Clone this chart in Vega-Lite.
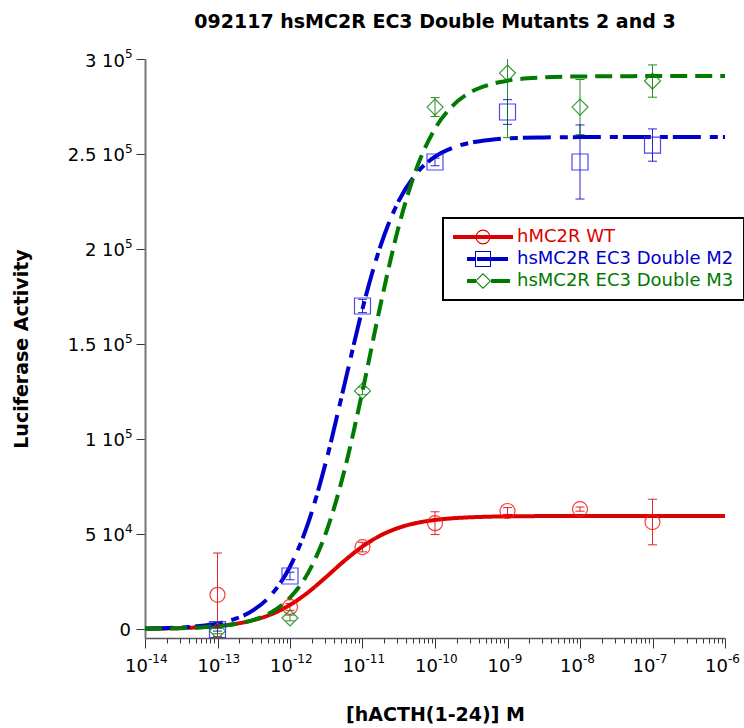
{
  "$schema": "https://vega.github.io/schema/vega-lite/v6.json",
  "width": 580,
  "height": 579,
  "autosize": "none",
  "padding": {"left": 145, "top": 59, "right": 19, "bottom": 90},
  "background": "white",
  "config": {
    "view": {"stroke": null},
    "font": "DejaVu Sans"
  },
  "title": {
    "text": "092117 hsMC2R EC3 Double Mutants 2 and 3",
    "font": "DejaVu Sans",
    "fontSize": 19,
    "fontWeight": "bold",
    "color": "black",
    "anchor": "middle",
    "offset": 16
  },
  "datasets": {
    "curve": [
      {"series": "hMC2R WT", "conc": 1e-14, "y": 160},
      {"series": "hMC2R WT", "conc": 1.778e-14, "y": 285},
      {"series": "hMC2R WT", "conc": 3.162e-14, "y": 505},
      {"series": "hMC2R WT", "conc": 5.623e-14, "y": 890},
      {"series": "hMC2R WT", "conc": 1e-13, "y": 1565},
      {"series": "hMC2R WT", "conc": 1.778e-13, "y": 2730},
      {"series": "hMC2R WT", "conc": 3.162e-13, "y": 4690},
      {"series": "hMC2R WT", "conc": 5.623e-13, "y": 7850},
      {"series": "hMC2R WT", "conc": 1e-12, "y": 12670},
      {"series": "hMC2R WT", "conc": 1.778e-12, "y": 19320},
      {"series": "hMC2R WT", "conc": 3.162e-12, "y": 27420},
      {"series": "hMC2R WT", "conc": 5.623e-12, "y": 35890},
      {"series": "hMC2R WT", "conc": 1e-11, "y": 43430},
      {"series": "hMC2R WT", "conc": 1.778e-11, "y": 49260},
      {"series": "hMC2R WT", "conc": 3.162e-11, "y": 53270},
      {"series": "hMC2R WT", "conc": 5.623e-11, "y": 55830},
      {"series": "hMC2R WT", "conc": 1e-10, "y": 57380},
      {"series": "hMC2R WT", "conc": 1.778e-10, "y": 58290},
      {"series": "hMC2R WT", "conc": 3.162e-10, "y": 58810},
      {"series": "hMC2R WT", "conc": 5.623e-10, "y": 59110},
      {"series": "hMC2R WT", "conc": 1e-9, "y": 59280},
      {"series": "hMC2R WT", "conc": 3.162e-9, "y": 59430},
      {"series": "hMC2R WT", "conc": 1e-8, "y": 59480},
      {"series": "hMC2R WT", "conc": 1e-7, "y": 59500},
      {"series": "hMC2R WT", "conc": 1e-6, "y": 59500},
      {"series": "hsMC2R EC3 Double M2", "conc": 1e-14, "y": 226},
      {"series": "hsMC2R EC3 Double M2", "conc": 1.778e-14, "y": 427},
      {"series": "hsMC2R EC3 Double M2", "conc": 3.162e-14, "y": 809},
      {"series": "hsMC2R EC3 Double M2", "conc": 5.623e-14, "y": 1527},
      {"series": "hsMC2R EC3 Double M2", "conc": 1e-13, "y": 2880},
      {"series": "hsMC2R EC3 Double M2", "conc": 1.778e-13, "y": 5400},
      {"series": "hsMC2R EC3 Double M2", "conc": 3.162e-13, "y": 10050},
      {"series": "hsMC2R EC3 Double M2", "conc": 5.623e-13, "y": 18380},
      {"series": "hsMC2R EC3 Double M2", "conc": 1e-12, "y": 32770},
      {"series": "hsMC2R EC3 Double M2", "conc": 1.778e-12, "y": 55740},
      {"series": "hsMC2R EC3 Double M2", "conc": 3.162e-12, "y": 88590},
      {"series": "hsMC2R EC3 Double M2", "conc": 5.623e-12, "y": 128500},
      {"series": "hsMC2R EC3 Double M2", "conc": 1e-11, "y": 168600},
      {"series": "hsMC2R EC3 Double M2", "conc": 1.778e-11, "y": 201800},
      {"series": "hsMC2R EC3 Double M2", "conc": 3.162e-11, "y": 225300},
      {"series": "hsMC2R EC3 Double M2", "conc": 5.623e-11, "y": 240000},
      {"series": "hsMC2R EC3 Double M2", "conc": 1e-10, "y": 248600},
      {"series": "hsMC2R EC3 Double M2", "conc": 1.778e-10, "y": 253400},
      {"series": "hsMC2R EC3 Double M2", "conc": 3.162e-10, "y": 256000},
      {"series": "hsMC2R EC3 Double M2", "conc": 5.623e-10, "y": 257400},
      {"series": "hsMC2R EC3 Double M2", "conc": 1e-9, "y": 258200},
      {"series": "hsMC2R EC3 Double M2", "conc": 3.162e-9, "y": 258700},
      {"series": "hsMC2R EC3 Double M2", "conc": 1e-8, "y": 258900},
      {"series": "hsMC2R EC3 Double M2", "conc": 1e-7, "y": 259000},
      {"series": "hsMC2R EC3 Double M2", "conc": 1e-6, "y": 259000},
      {"series": "hsMC2R EC3 Double M3", "conc": 1e-14, "y": 110},
      {"series": "hsMC2R EC3 Double M3", "conc": 1.778e-14, "y": 207},
      {"series": "hsMC2R EC3 Double M3", "conc": 3.162e-14, "y": 390},
      {"series": "hsMC2R EC3 Double M3", "conc": 5.623e-14, "y": 734},
      {"series": "hsMC2R EC3 Double M3", "conc": 1e-13, "y": 1380},
      {"series": "hsMC2R EC3 Double M3", "conc": 1.778e-13, "y": 2590},
      {"series": "hsMC2R EC3 Double M3", "conc": 3.162e-13, "y": 4840},
      {"series": "hsMC2R EC3 Double M3", "conc": 5.623e-13, "y": 8980},
      {"series": "hsMC2R EC3 Double M3", "conc": 1e-12, "y": 16470},
      {"series": "hsMC2R EC3 Double M3", "conc": 1.778e-12, "y": 29550},
      {"series": "hsMC2R EC3 Double M3", "conc": 3.162e-12, "y": 51060},
      {"series": "hsMC2R EC3 Double M3", "conc": 5.623e-12, "y": 83280},
      {"series": "hsMC2R EC3 Double M3", "conc": 1e-11, "y": 125200},
      {"series": "hsMC2R EC3 Double M3", "conc": 1.778e-11, "y": 170900},
      {"series": "hsMC2R EC3 Double M3", "conc": 3.162e-11, "y": 211900},
      {"series": "hsMC2R EC3 Double M3", "conc": 5.623e-11, "y": 242900},
      {"series": "hsMC2R EC3 Double M3", "conc": 1e-10, "y": 263300},
      {"series": "hsMC2R EC3 Double M3", "conc": 1.778e-10, "y": 275600},
      {"series": "hsMC2R EC3 Double M3", "conc": 3.162e-10, "y": 282700},
      {"series": "hsMC2R EC3 Double M3", "conc": 5.623e-10, "y": 286500},
      {"series": "hsMC2R EC3 Double M3", "conc": 1e-9, "y": 288600},
      {"series": "hsMC2R EC3 Double M3", "conc": 3.162e-9, "y": 290300},
      {"series": "hsMC2R EC3 Double M3", "conc": 1e-8, "y": 290800},
      {"series": "hsMC2R EC3 Double M3", "conc": 1e-7, "y": 291000},
      {"series": "hsMC2R EC3 Double M3", "conc": 1e-6, "y": 291000}
    ],
    "pts": [
      {"series": "hMC2R WT", "conc": 1e-13, "y": 18000, "lo": -4000, "hi": 40000},
      {"series": "hMC2R WT", "conc": 1e-12, "y": 11600, "lo": 9800, "hi": 13400},
      {"series": "hMC2R WT", "conc": 1e-11, "y": 43100, "lo": 40600, "hi": 45600},
      {"series": "hMC2R WT", "conc": 1e-10, "y": 55700, "lo": 49700, "hi": 61700},
      {"series": "hMC2R WT", "conc": 1e-9, "y": 62100, "lo": 60300, "hi": 63900},
      {"series": "hMC2R WT", "conc": 1e-8, "y": 63100, "lo": 62000, "hi": 64200},
      {"series": "hMC2R WT", "conc": 1e-7, "y": 56300, "lo": 44300, "hi": 68300},
      {"series": "hsMC2R EC3 Double M2", "conc": 1e-13, "y": -300, "lo": -1100, "hi": 500},
      {"series": "hsMC2R EC3 Double M2", "conc": 1e-12, "y": 27900, "lo": 25900, "hi": 29900},
      {"series": "hsMC2R EC3 Double M2", "conc": 1e-11, "y": 170000, "lo": 166500, "hi": 173500},
      {"series": "hsMC2R EC3 Double M2", "conc": 1e-10, "y": 245800, "lo": 243800, "hi": 247800},
      {"series": "hsMC2R EC3 Double M2", "conc": 1e-9, "y": 272100, "lo": 265600, "hi": 278600},
      {"series": "hsMC2R EC3 Double M2", "conc": 1e-8, "y": 245800, "lo": 226300, "hi": 265300},
      {"series": "hsMC2R EC3 Double M2", "conc": 1e-7, "y": 254700, "lo": 246200, "hi": 263200},
      {"series": "hsMC2R EC3 Double M3", "conc": 1e-13, "y": -1000, "lo": -2500, "hi": 500},
      {"series": "hsMC2R EC3 Double M3", "conc": 1e-12, "y": 5800, "lo": 4300, "hi": 7300},
      {"series": "hsMC2R EC3 Double M3", "conc": 1e-11, "y": 125300, "lo": 123300, "hi": 127300},
      {"series": "hsMC2R EC3 Double M3", "conc": 1e-10, "y": 274700, "lo": 269700, "hi": 279700},
      {"series": "hsMC2R EC3 Double M3", "conc": 1e-9, "y": 292600, "lo": 258600, "hi": 326600},
      {"series": "hsMC2R EC3 Double M3", "conc": 1e-8, "y": 274700, "lo": 260200, "hi": 289200},
      {"series": "hsMC2R EC3 Double M3", "conc": 1e-7, "y": 288400, "lo": 279900, "hi": 296900}
    ],
    "xlab": [
      {"conc": 1e-14, "base": "10", "exp": "-14"},
      {"conc": 1e-13, "base": "10", "exp": "-13"},
      {"conc": 1e-12, "base": "10", "exp": "-12"},
      {"conc": 1e-11, "base": "10", "exp": "-11"},
      {"conc": 1e-10, "base": "10", "exp": "-10"},
      {"conc": 1e-9, "base": "10", "exp": "-9"},
      {"conc": 1e-8, "base": "10", "exp": "-8"},
      {"conc": 1e-7, "base": "10", "exp": "-7"},
      {"conc": 1e-6, "base": "10", "exp": "-6"}
    ],
    "ylab": [
      {"v": 0, "base": "0", "exp": ""},
      {"v": 50000, "base": "5 10", "exp": "4"},
      {"v": 100000, "base": "1 10", "exp": "5"},
      {"v": 150000, "base": "1.5 10", "exp": "5"},
      {"v": 200000, "base": "2 10", "exp": "5"},
      {"v": 250000, "base": "2.5 10", "exp": "5"},
      {"v": 300000, "base": "3 10", "exp": "5"}
    ]
  },
  "layer": [
    {
      "data": {"name": "curve"},
      "mark": {"type": "line", "interpolate": "monotone", "strokeWidth": 4, "clip": true},
      "encoding": {
        "x": {
          "field": "conc",
          "type": "quantitative",
          "scale": {"type": "log", "domain": [1e-14, 1e-6], "nice": false},
          "axis": {
            "title": "[hACTH(1-24)] M",
            "titleFont": "DejaVu Sans",
            "titleFontSize": 19,
            "titleFontWeight": "bold",
            "titleColor": "black",
            "titlePadding": 57,
            "grid": false,
            "values": [1e-14,2e-14,3e-14,4e-14,5e-14,6e-14,7e-14,8e-14,9e-14,1e-13,2e-13,3e-13,4e-13,5e-13,6e-13,7e-13,8e-13,9e-13,1e-12,2e-12,3e-12,4e-12,5e-12,6e-12,7e-12,8e-12,9e-12,1e-11,2e-11,3e-11,4e-11,5e-11,6e-11,7e-11,8e-11,9e-11,1e-10,2e-10,3e-10,4e-10,5e-10,6e-10,7e-10,8e-10,9e-10,1e-9,2e-9,3e-9,4e-9,5e-9,6e-9,7e-9,8e-9,9e-9,1e-8,2e-8,3e-8,4e-8,5e-8,6e-8,7e-8,8e-8,9e-8,1e-7,2e-7,3e-7,4e-7,5e-7,6e-7,7e-7,8e-7,9e-7,1e-6],
            "labels": false,
            "tickSize": {"condition": {"test": "abs(log(datum.value)/LN10 - round(log(datum.value)/LN10)) < 0.001", "value": 10}, "value": 5},
            "tickColor": "#333333",
            "tickWidth": 1,
            "domainColor": "#555555",
            "domainWidth": 1.5
          }
        },
        "y": {
          "field": "y",
          "type": "quantitative",
          "scale": {"domain": [-4740, 300000], "nice": false, "zero": false},
          "axis": {
            "title": "Luciferase Activity",
            "titleFont": "DejaVu Sans",
            "titleFontSize": 19,
            "titleFontWeight": "bold",
            "titleColor": "black",
            "titlePadding": 104,
            "grid": false,
            "values": [0, 50000, 100000, 150000, 200000, 250000, 300000],
            "labels": false,
            "tickSize": 9,
            "tickColor": "#333333",
            "tickWidth": 1,
            "domainColor": "#777777",
            "domainWidth": 2
          }
        },
        "stroke": {
          "field": "series", "type": "nominal",
          "scale": {"domain": ["hsMC2R EC3 Double M3", "hsMC2R EC3 Double M2", "hMC2R WT"], "range": ["#007a00", "#0000cc", "#dd0000"]},
          "legend": null
        },
        "strokeDash": {
          "field": "series", "type": "nominal",
          "scale": {"domain": ["hsMC2R EC3 Double M3", "hsMC2R EC3 Double M2", "hMC2R WT"], "range": [[17, 8], [28, 9, 8, 5], [1, 0]]},
          "legend": null
        }
      }
    },
    {
      "data": {"name": "pts"},
      "mark": {"type": "rule", "strokeWidth": 1, "opacity": 0.85, "clip": true},
      "encoding": {
        "x": {"field": "conc", "type": "quantitative"},
        "y": {"field": "lo", "type": "quantitative"},
        "y2": {"field": "hi"},
        "stroke": {"field": "series", "type": "nominal", "legend": null}
      }
    },
    {
      "data": {"name": "pts"},
      "mark": {"type": "tick", "orient": "horizontal", "size": 9, "thickness": 1, "opacity": 0.85, "clip": true},
      "encoding": {
        "x": {"field": "conc", "type": "quantitative"},
        "y": {"field": "lo", "type": "quantitative"},
        "fill": {
          "field": "series", "type": "nominal",
          "scale": {"domain": ["hsMC2R EC3 Double M3", "hsMC2R EC3 Double M2", "hMC2R WT"], "range": ["#007a00", "#0000cc", "#dd0000"]},
          "legend": null
        }
      }
    },
    {
      "data": {"name": "pts"},
      "mark": {"type": "tick", "orient": "horizontal", "size": 9, "thickness": 1, "opacity": 0.85, "clip": true},
      "encoding": {
        "x": {"field": "conc", "type": "quantitative"},
        "y": {"field": "hi", "type": "quantitative"},
        "fill": {"field": "series", "type": "nominal", "legend": null}
      }
    },
    {
      "data": {"name": "pts"},
      "transform": [{"filter": "datum.series === 'hMC2R WT'"}],
      "mark": {"type": "point", "shape": "circle", "size": 225, "filled": false, "strokeWidth": 1.2, "color": "#ff1a1a", "opacity": 0.85, "clip": true},
      "encoding": {"x": {"field": "conc", "type": "quantitative"}, "y": {"field": "y", "type": "quantitative"}}
    },
    {
      "data": {"name": "pts"},
      "transform": [{"filter": "datum.series === 'hsMC2R EC3 Double M2'"}],
      "mark": {"type": "point", "shape": "square", "size": 256, "filled": false, "strokeWidth": 1.2, "color": "#2a2aee", "opacity": 0.85, "clip": true},
      "encoding": {"x": {"field": "conc", "type": "quantitative"}, "y": {"field": "y", "type": "quantitative"}}
    },
    {
      "data": {"name": "pts"},
      "transform": [{"filter": "datum.series === 'hsMC2R EC3 Double M3'"}],
      "mark": {"type": "point", "shape": "diamond", "size": 256, "filled": false, "strokeWidth": 1.2, "color": "#1a881a", "opacity": 0.85, "clip": true},
      "encoding": {"x": {"field": "conc", "type": "quantitative"}, "y": {"field": "y", "type": "quantitative"}}
    },
    {
      "data": {"name": "xlab"},
      "mark": {"type": "text", "align": "right", "baseline": "alphabetic", "dx": 3, "dy": 34, "fontSize": 18, "font": "DejaVu Sans", "color": "black"},
      "encoding": {"x": {"field": "conc", "type": "quantitative"}, "y": {"datum": -4740}, "text": {"field": "base"}}
    },
    {
      "data": {"name": "xlab"},
      "mark": {"type": "text", "align": "left", "baseline": "alphabetic", "dx": 3, "dy": 25, "fontSize": 12, "font": "DejaVu Sans", "color": "black"},
      "encoding": {"x": {"field": "conc", "type": "quantitative"}, "y": {"datum": -4740}, "text": {"field": "exp"}}
    },
    {
      "data": {"name": "ylab"},
      "transform": [{"filter": "datum.v > 0"}],
      "mark": {"type": "text", "align": "right", "baseline": "alphabetic", "dx": -20, "dy": 7.5, "fontSize": 18, "font": "DejaVu Sans", "color": "black"},
      "encoding": {"x": {"datum": 1e-14}, "y": {"field": "v", "type": "quantitative"}, "text": {"field": "base"}}
    },
    {
      "data": {"name": "ylab"},
      "transform": [{"filter": "datum.v > 0"}],
      "mark": {"type": "text", "align": "left", "baseline": "alphabetic", "dx": -20, "dy": -1, "fontSize": 12, "font": "DejaVu Sans", "color": "black"},
      "encoding": {"x": {"datum": 1e-14}, "y": {"field": "v", "type": "quantitative"}, "text": {"field": "exp"}}
    },
    {
      "data": {"name": "ylab"},
      "transform": [{"filter": "datum.v == 0"}],
      "mark": {"type": "text", "align": "right", "baseline": "alphabetic", "dx": -14, "dy": 7.5, "fontSize": 18, "font": "DejaVu Sans", "color": "black"},
      "encoding": {"x": {"datum": 1e-14}, "y": {"field": "v", "type": "quantitative"}, "text": {"field": "base"}}
    },
    {
      "data": {"name": "pts"},
      "mark": {"type": "point", "filled": true, "opacity": 0},
      "encoding": {
        "x": {"field": "conc", "type": "quantitative"},
        "y": {"field": "y", "type": "quantitative"},
        "color": {
          "field": "series", "type": "nominal",
          "scale": {"domain": ["hMC2R WT", "hsMC2R EC3 Double M2", "hsMC2R EC3 Double M3"], "range": ["#dd0000", "#0000cc", "#007a00"]},
          "legend": {
            "orient": "none", "legendX": 298, "legendY": 159, "title": null, "padding": 10,
            "strokeColor": "black", "fillColor": "white",
            "symbolSize": 4, "symbolStrokeWidth": 0, "symbolOpacity": 1,
            "symbolOffset": 21, "labelOffset": 25, "rowPadding": 4,
            "labelFont": "DejaVu Sans", "labelFontSize": 18, "labelLimit": 400,
            "encoding": {
              "legend": {"strokeWidth": {"value": 2}},
              "labels": {"fill": {"condition": [{"test": "datum.value === 'hMC2R WT'", "value": "#dd0000"}, {"test": "datum.value === 'hsMC2R EC3 Double M2'", "value": "#0000cc"}], "value": "#007a00"}}
            }
          }
        },
        "shape": {
          "field": "series", "type": "nominal",
          "scale": {
            "domain": ["hMC2R WT", "hsMC2R EC3 Double M2", "hsMC2R EC3 Double M3"],
            "range": [
              "M-30,-2L30,-2L30,2L-30,2Z M7.5,0L6.93,2.87L5.3,5.3L2.87,6.93L0,7.5L-2.87,6.93L-5.3,5.3L-6.93,2.87L-7.5,0L-6.93,-2.87L-5.3,-5.3L-2.87,-6.93L0,-7.5L2.87,-6.93L5.3,-5.3L6.93,-2.87Z M6.3,0L5.82,-2.41L4.45,-4.45L2.41,-5.82L0,-6.3L-2.41,-5.82L-4.45,-4.45L-5.82,-2.41L-6.3,0L-5.82,2.41L-4.45,4.45L-2.41,5.82L0,6.3L2.41,5.82L4.45,4.45L5.82,2.41Z",
              "M-16,-2L-8,-2L-8,2L-16,2Z M-6,-2L25,-2L25,2L-6,2Z M-8,-8L8,-8L8,8L-8,8Z M-7,-7L-7,7L7,7L7,-7Z",
              "M-16,-2L-7,-2L-7,2L-16,2Z M8,-2L27,-2L27,2L8,2Z M0,-8L8,0L0,8L-8,0Z M0,-6.6L-6.6,0L0,6.6L6.6,0Z"
            ]
          },
          "legend": {
            "orient": "none", "legendX": 298, "legendY": 159, "title": null, "padding": 10,
            "strokeColor": "black", "fillColor": "white",
            "symbolSize": 4, "symbolStrokeWidth": 0, "symbolOpacity": 1,
            "symbolOffset": 21, "labelOffset": 25, "rowPadding": 4,
            "labelFont": "DejaVu Sans", "labelFontSize": 18, "labelLimit": 400,
            "encoding": {
              "legend": {"strokeWidth": {"value": 2}},
              "labels": {"fill": {"condition": [{"test": "datum.value === 'hMC2R WT'", "value": "#dd0000"}, {"test": "datum.value === 'hsMC2R EC3 Double M2'", "value": "#0000cc"}], "value": "#007a00"}}
            }
          }
        }
      }
    }
  ]
}
